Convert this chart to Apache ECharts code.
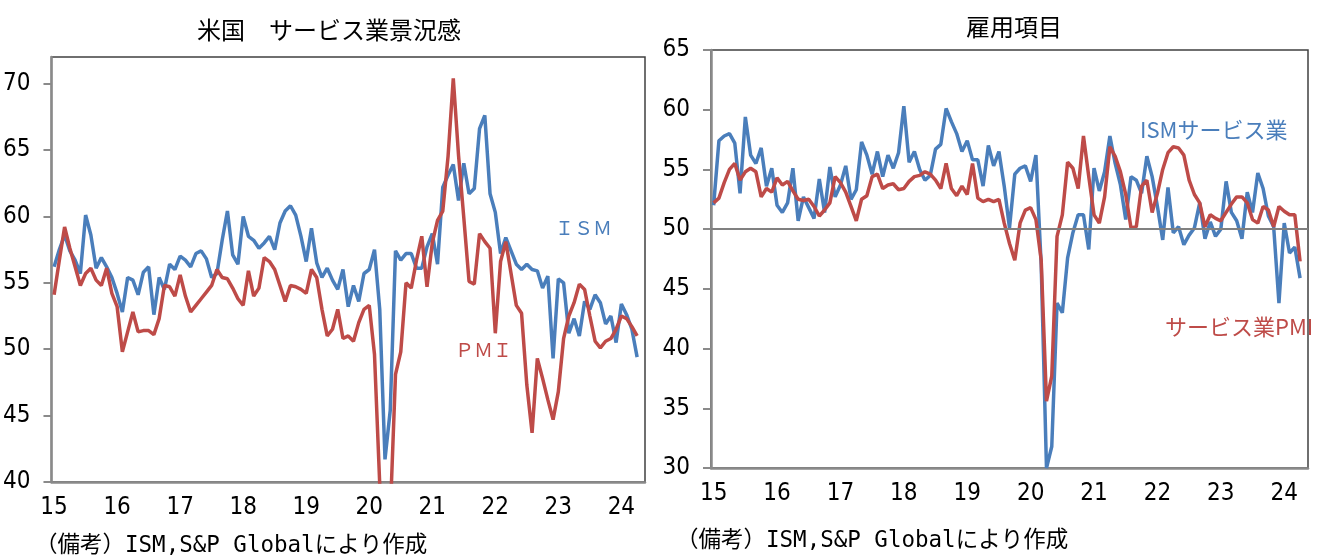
<!DOCTYPE html>
<html>
<head>
<meta charset="utf-8">
<script src="https://cdn.jsdelivr.net/npm/echarts@6/dist/echarts.min.js"></script>
<style>
  html, body { margin: 0; padding: 0; background: #fff; }
  #chart { width: 1325px; height: 560px; }
</style>
</head>
<body>
<div id="chart"></div>
<script>
(function() {
  // --- data (monthly, 2015.1 - 2024.4; axis runs to 2024.5) ---
  var years = [2015, 2016, 2017, 2018, 2019, 2020, 2021, 2022, 2023, 2024];
  var months = [];
  years.forEach(function(y) {
    for (var m = 1; m <= 12; m++) {
      if (y === 2024 && m > 5) break;
      months.push(y + '-' + (m < 10 ? '0' + m : m));
    }
  });

  // 景況感
  var ismComposite = [
    56.2, 57.5, 58.6, 57.4, 56.7, 55.7, 60.1, 58.6, 56.1, 56.9, 56.2, 55.4,
    54.2, 52.8, 55.4, 55.2, 54.1, 55.8, 56.2, 52.6, 55.4, 54.5, 56.4, 56.0,
    57.0, 56.7, 56.2, 57.2, 57.4, 56.8, 55.4, 55.7, 58.2, 60.4, 57.1, 56.4,
    60.0, 58.5, 58.2, 57.6, 58.0, 58.5, 57.5, 59.5, 60.4, 60.8, 60.1, 58.5,
    56.6, 59.1, 56.5, 55.4, 56.1, 55.2, 54.5, 56.0, 53.2, 54.8, 53.6, 55.7,
    56.0, 57.5, 53.0, 41.7, 45.4, 57.4, 56.7, 57.2, 57.2, 56.1, 56.1, 57.7,
    58.7, 56.4, 62.2, 63.1, 63.9, 61.2, 64.0, 61.7, 62.1, 66.6, 67.6, 61.7,
    60.3, 57.2, 58.4, 57.4, 56.4, 56.0, 56.4, 56.0, 55.9, 54.6, 55.5, 49.3,
    55.3, 55.0, 51.2, 52.3, 51.0, 53.6, 53.0, 54.1, 53.5, 51.9, 52.5, 50.5,
    53.4, 52.6, 51.5, 49.4
  ];
  var pmiComposite = [
    54.1, 56.7, 59.2, 57.6, 56.2, 54.8, 55.7, 56.1, 55.2, 54.8, 56.1, 54.2,
    53.2, 49.8, 51.3, 52.8, 51.3, 51.4, 51.4, 51.1, 52.3, 54.8, 54.7, 54.0,
    55.6, 54.0, 52.8, 53.3, 53.8, 54.3, 54.8, 56.0, 55.4, 55.3, 54.6, 53.8,
    53.3, 55.9, 54.0, 54.6, 56.9, 56.6, 56.0, 54.8, 53.6, 54.8, 54.7, 54.5,
    54.2, 56.0, 55.4, 53.0, 51.0, 51.5, 53.0, 50.8, 51.0, 50.6, 52.0, 53.0,
    53.3, 49.6, 39.8, 26.7, 37.5, 48.1, 49.8, 55.0, 54.6, 56.7, 58.5, 54.7,
    58.0, 59.7, 60.4, 64.5, 70.4, 64.6, 59.9, 55.1, 54.9, 58.7, 58.1, 57.6,
    51.2, 56.6, 58.1, 55.7, 53.3, 52.7, 47.3, 43.7, 49.3, 47.8, 46.2, 44.7,
    46.8, 50.8, 52.5, 53.5, 54.9, 54.5, 52.5, 50.6, 50.1, 50.6, 50.8, 51.5,
    52.5, 52.3, 51.7, 51.0
  ];

  // 雇用項目
  var ismEmployment = [
    52.0, 57.4, 57.8, 58.0, 57.2, 53.0, 59.4, 56.2, 55.5, 56.8, 53.6, 55.1,
    52.0, 51.4, 52.2, 55.1, 50.7, 52.7, 51.8, 50.9, 54.2, 51.4, 55.2, 52.7,
    53.7, 55.3, 52.5, 53.3, 57.3, 56.2, 54.6, 56.5, 54.4, 56.2, 55.1, 56.4,
    60.3, 55.6, 56.5, 55.0, 54.1, 54.5, 56.7, 57.1, 60.1, 59.0, 58.0, 56.5,
    57.4, 55.8, 55.8, 53.6, 57.0, 55.3, 56.5, 53.6, 50.1, 54.6, 55.1, 55.3,
    54.0, 56.2, 47.0, 30.0, 31.8, 43.8, 43.0, 47.6, 49.7, 51.2, 51.2, 48.3,
    55.1, 53.2, 54.8, 57.8, 55.5, 53.7, 50.8, 54.4, 54.1, 53.0, 56.1, 54.4,
    51.9, 49.1, 53.5, 49.7, 50.2, 48.7, 49.5, 50.1, 52.2, 49.2, 50.6, 49.4,
    50.0, 54.0, 51.4, 50.7, 49.2, 53.1, 51.4, 54.7, 53.4, 51.1, 50.2, 43.8,
    50.5, 48.0, 48.5, 45.9
  ];
  var pmiEmployment = [
    52.2, 52.6, 53.9, 55.0, 55.5, 54.1, 54.8, 55.1, 54.8, 52.7, 53.4, 53.1,
    54.3, 53.7, 54.0, 53.2, 52.5, 52.4, 52.5, 51.9, 51.1, 51.6, 52.2, 54.4,
    53.9, 53.1, 51.9, 50.7, 52.5, 52.8, 54.4, 54.6, 53.4, 53.7, 53.8, 53.3,
    53.4, 54.0, 54.4, 54.5, 54.8, 54.6, 54.1, 53.4, 55.5, 53.4, 52.8, 53.6,
    52.9, 55.5, 52.6, 52.3, 52.5, 52.3, 52.5, 50.5, 48.8, 47.4, 50.5, 51.6,
    51.8, 50.8, 47.4, 35.6, 37.7, 49.4, 51.2, 55.6, 55.1, 53.4, 57.8, 54.4,
    51.2, 50.5, 52.7, 56.9, 56.1, 54.8, 52.9, 50.1, 50.2, 53.6, 54.1, 51.4,
    53.0, 55.0, 56.4, 56.9, 56.8, 56.2, 54.1, 52.9, 52.2, 50.2, 51.2, 50.9,
    50.7, 51.4, 52.1, 52.7, 52.7, 52.2, 50.8, 50.5, 51.9, 51.6, 50.2, 51.9,
    51.5, 51.2, 51.2, 47.3
  ];

  var yTicksLeft = [40, 45, 50, 55, 60, 65, 70];
  var yTicksRight = [30, 35, 40, 45, 50, 55, 60, 65];

  var blue = '#4a7ebb';
  var red = '#be4b48';
  var axisGray = '#8a8a8a';
  var numFont = "'Liberation Sans Narrow', 'DejaVu Sans Condensed', sans-serif";
  var jpFont = "'Noto Sans CJK JP', sans-serif";
  var noteFont = "'DejaVu Sans Mono', 'Noto Sans CJK JP', monospace";

  function xAxisFor(idx) {
    return {
      type: 'category',
      gridIndex: idx,
      data: months,
      boundaryGap: true,
      axisLine: { lineStyle: { color: axisGray, width: 2.5 } },
      axisTick: { show: false },
      axisLabel: {
        color: '#000',
        fontSize: 24,
        fontFamily: numFont,
        margin: 14,
        interval: function(i) { return i % 12 === 0; },
        formatter: function(v) { return v.slice(2, 4); }
      },
      splitLine: { show: false }
    };
  }

  function yAxisFor(idx, min, max, ticks) {
    return {
      type: 'value',
      gridIndex: idx,
      min: min,
      max: max,
      interval: 5,
      axisLine: { show: true, lineStyle: { color: axisGray, width: 2.5 } },
      axisTick: { show: true, length: 8, lineStyle: { color: axisGray, width: 2 }, customValues: ticks },
      axisLabel: {
        color: '#000',
        fontSize: 24,
        fontFamily: numFont,
        margin: 21,
        customValues: ticks,
        formatter: function(v) { return v % 5 === 0 ? String(v) : ''; }
      },
      splitLine: { show: false }
    };
  }

  var chart = echarts.init(document.getElementById('chart'), null, { renderer: 'canvas' });

  chart.setOption({
    animation: false,
    backgroundColor: '#fff',
    grid: [
      { left: 50, top: 57, width: 595, height: 425, show: true, borderColor: '#404040', borderWidth: 1.5 },
      { left: 711, top: 50, width: 597, height: 418, show: true, borderColor: '#404040', borderWidth: 1.5 }
    ],
    xAxis: [xAxisFor(0), xAxisFor(1)],
    yAxis: [yAxisFor(0, 40, 72, yTicksLeft), yAxisFor(1, 30, 65, yTicksRight)],
    series: [
      {
        name: 'ISM', type: 'line', xAxisIndex: 0, yAxisIndex: 0,
        data: ismComposite, symbol: 'none', z: 3,
        lineStyle: { color: blue, width: 3.5 }
      },
      {
        name: 'PMI', type: 'line', xAxisIndex: 0, yAxisIndex: 0,
        data: pmiComposite, symbol: 'none', z: 4,
        lineStyle: { color: red, width: 3.5 }
      },
      {
        name: 'ISMサービス業', type: 'line', xAxisIndex: 1, yAxisIndex: 1,
        data: ismEmployment, symbol: 'none', z: 3,
        lineStyle: { color: blue, width: 3.5 },
        markLine: {
          silent: true, symbol: 'none', animation: false,
          label: { show: false },
          lineStyle: { color: '#808080', width: 2, type: 'solid' },
          data: [{ yAxis: 50 }]
        }
      },
      {
        name: 'サービス業PMI', type: 'line', xAxisIndex: 1, yAxisIndex: 1,
        data: pmiEmployment, symbol: 'none', z: 4,
        lineStyle: { color: red, width: 3.5 }
      }
    ],
    graphic: [
      { type: 'text', x: 329, y: 30, silent: true,
        style: { text: '米国　サービス業景況感', font: '24px ' + jpFont, fill: '#000', align: 'center', verticalAlign: 'middle' } },
      { type: 'text', x: 1014, y: 27, silent: true,
        style: { text: '雇用項目', font: '24px ' + jpFont, fill: '#000', align: 'center', verticalAlign: 'middle' } },
      { type: 'text', x: 555, y: 228, silent: true,
        style: { text: 'ＩＳＭ', font: '19px ' + jpFont, fill: blue, align: 'left', verticalAlign: 'middle' } },
      { type: 'text', x: 455, y: 350, silent: true,
        style: { text: 'ＰＭＩ', font: '19px ' + jpFont, fill: red, align: 'left', verticalAlign: 'middle' } },
      { type: 'text', x: 1140, y: 130, silent: true,
        style: { text: 'ISMサービス業', font: '22px ' + jpFont, fill: blue, align: 'left', verticalAlign: 'middle' } },
      { type: 'text', x: 1165, y: 327, silent: true,
        style: { text: 'サービス業PMI', font: '22px ' + jpFont, fill: red, align: 'left', verticalAlign: 'middle' } },
      { type: 'text', x: 35, y: 546, silent: true,
        style: { text: '（備考）ISM,S&P Globalにより作成', font: '22.5px ' + noteFont, fill: '#000', align: 'left', verticalAlign: 'middle' } },
      { type: 'text', x: 676, y: 541, silent: true,
        style: { text: '（備考）ISM,S&P Globalにより作成', font: '22.5px ' + noteFont, fill: '#000', align: 'left', verticalAlign: 'middle' } }
    ]
  });

  window.addEventListener('resize', function() { chart.resize(); });
})();
</script>
</body>
</html>
